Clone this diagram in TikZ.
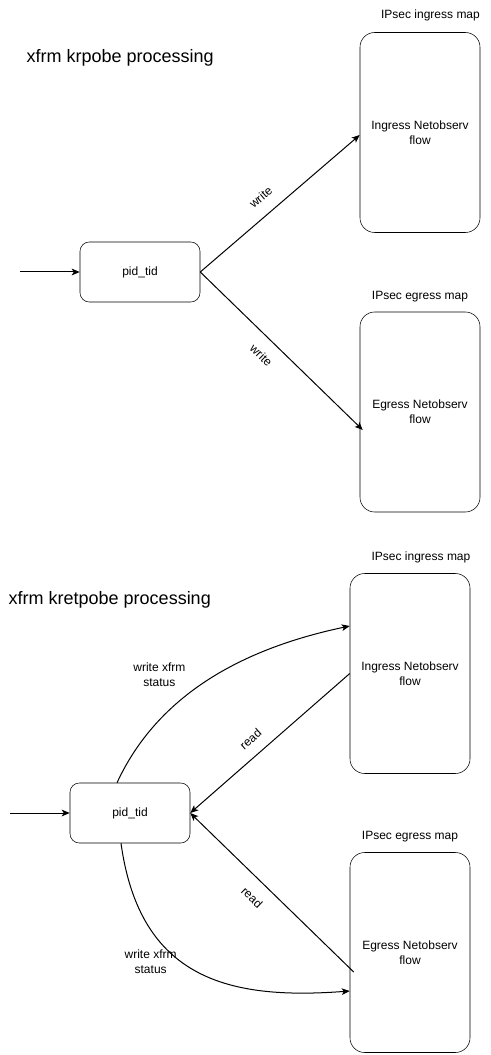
\documentclass[tikz,border=0pt]{standalone}
\usepackage{fontspec}
\setmainfont{Liberation Sans}
\usetikzlibrary{arrows.meta,calc}

\begin{document}
\begin{tikzpicture}[x=0.75pt,y=-0.75pt,
    every node/.style={font=\fontsize{9}{11.25}\selectfont},
    mapbox/.style={draw, rounded corners=11pt, minimum width=90pt, minimum height=150pt, align=center},
    keybox/.style={draw, rounded corners=7pt, minimum width=90pt, minimum height=45pt},
    heading/.style={anchor=west, font=\fontsize{13.5}{16}\selectfont},
    lbl/.style={align=center},
    wire/.style={-{Stealth[length=6pt,width=5pt,inset=1.5pt]}, line width=0.75pt}]
  \useasboundingbox (0,0) rectangle (490,1055);
  % krpobe
  \node[heading] (title1) at (22,58) {xfrm krpobe processing};
  \node[keybox] (pid1) at (140,272) {pid\_tid};
  \node[mapbox] (ingress1) at (420,132.5) {Ingress Netobserv\\flow};
  \node[mapbox] (egress1) at (420,412) {Egress Netobserv\\flow};
  \node (ingname1) at (430.5,15) {IPsec ingress map};
  \node (egname1) at (420,297) {IPsec egress map};
  \coordinate (in1) at (20,272);
  % kretpobe
  \node[heading] (title2) at (4,600) {xfrm kretpobe processing};
  \node[keybox] (pid2) at (130,813) {pid\_tid};
  \node[mapbox] (ingress2) at (410,673.5) {Ingress Netobserv\\flow};
  \node[mapbox] (egress2) at (410,952.5) {Egress Netobserv\\flow};
  \node (ingname2) at (421,557) {IPsec ingress map};
  \node (egname2) at (410,837) {IPsec egress map};
  \coordinate (in2) at (10,813);
  \begin{scope}[wire]
    \draw (in1) to (pid1);
    \draw (pid1.east) to node[pos=0.45, sloped, above=6pt] {write} ($(ingress1.west)+(0,2.5)$);
    \draw (pid1.east) to node[pos=0.45, sloped, below=6pt] {write} ($(egress1.west)+(3,18)$);
    \draw (in2) to (pid2);
    \draw ($(pid2.north)+(-13,0)$) .. controls (160,690) and (250,647) .. ($(ingress2.west)+(0,-47.5)$)
      node[pos=0.52, left=20pt, lbl] {write xfrm\\status};
    \draw (ingress2.west) to node[pos=0.556, sloped, above=5pt] {read} (pid2.east);
    \draw ($(egress2.west)+(4,19.5)$) to node[pos=0.548, sloped, below=6pt] {read} (pid2.east);
    \draw ($(pid2.south)+(-9,0)$) .. controls (140,980) and (230,1000) .. ($(egress2.west)+(0,38.5)$)
      node[pos=0.43, left, lbl] {write xfrm\\status};
  \end{scope}
\end{tikzpicture}
\end{document}
